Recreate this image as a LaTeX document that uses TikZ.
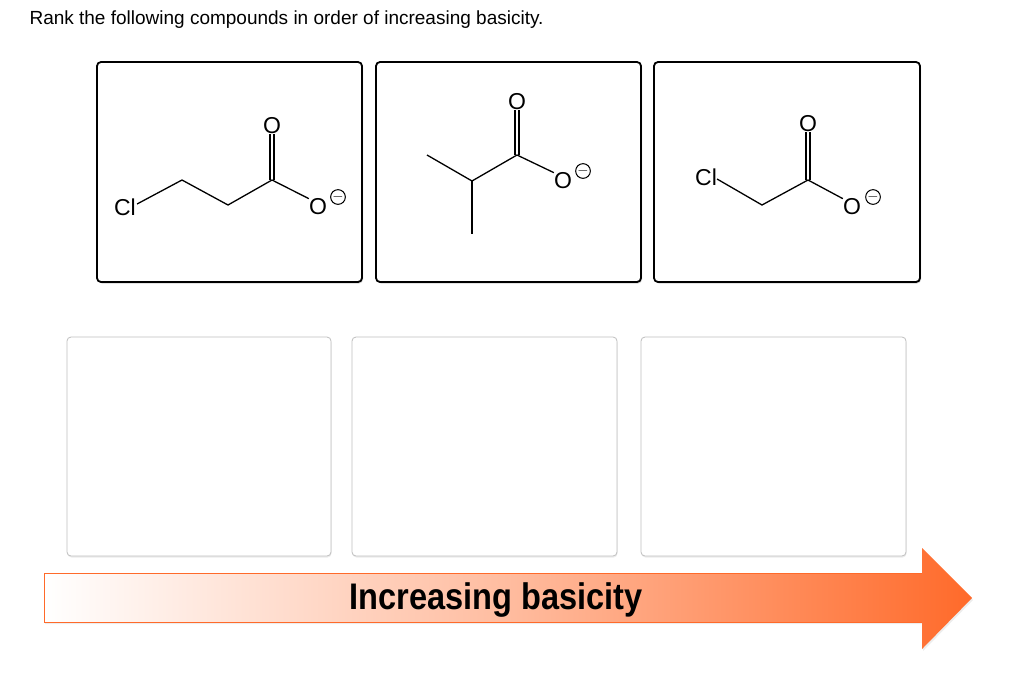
\documentclass[tikz,border=0pt]{standalone}
\usepackage{fontspec}
\setmainfont{Liberation Sans}
\usetikzlibrary{shadows}
\definecolor{orng}{HTML}{FF6A2A}
\begin{document}
\begin{tikzpicture}[x=1pt,y=-1pt,
  molbox/.style={draw=black,line width=1.8pt,rounded corners=4pt,fill=white,drop shadow={shadow xshift=1pt,shadow yshift=-1.5pt,opacity=0.35}},
  slotbox/.style={draw=black!25,line width=0.8pt,rounded corners=4pt,fill=white,drop shadow={shadow xshift=0.5pt,shadow yshift=-1.5pt,opacity=0.15}},
  bond/.style={line width=1.3pt},
  atom/.style={font=\fontsize{23}{23}\selectfont,inner sep=0pt},
  chg/.style={font=\fontsize{15}{15}\selectfont,draw,circle,inner sep=0pt,line width=1pt}]
\useasboundingbox (0,0) rectangle (1024,681);
\fill[white] (0,0) rectangle (1024,681);
\node[anchor=west,font=\fontsize{19}{19}\selectfont] (title) at (26,20) {Rank the following compounds in order of increasing basicity.};
% boxes
\path[molbox] (97,62) rectangle (362,282);
\path[molbox] (376,62) rectangle (641,282);
\path[molbox] (654,62) rectangle (920,282);
\path[slotbox] (67,337) rectangle (331,556);
\path[slotbox] (352,337) rectangle (617,556);
\path[slotbox] (641,337) rectangle (906,556);
% molecule 1
\node[atom] (cl1) at (125,207) {Cl};
\node[atom] (o1a) at (272,126) {O};
\node[atom] (o1b) at (318,207) {O};
\node[chg] (m1) at (338,197) {$-$};
\coordinate (a1) at (182,180); \coordinate (b1) at (228,205); \coordinate (c1) at (272,180);
\draw[bond] (cl1.east) ++(1,-3) -- (a1) -- (b1) -- (c1) -- (o1b.north west);
\draw[bond] ([xshift=-2]c1) -- ([xshift=-2]o1a.south);
\draw[bond] ([xshift=2]c1) -- ([xshift=2]o1a.south);
% molecule 2
\node[atom] (o2a) at (517,102) {O};
\node[atom] (o2b) at (563,181) {O};
\node[chg] (m2) at (583,171) {$-$};
\coordinate (a2) at (427,155); \coordinate (b2) at (472,181); \coordinate (c2) at (517,155); \coordinate (d2) at (472,234);
\draw[bond] (a2) -- (b2) -- (c2) -- (o2b.north west);
\draw[bond] (b2) -- (d2);
\draw[bond] ([xshift=-2]c2) -- ([xshift=-2]o2a.south);
\draw[bond] ([xshift=2]c2) -- ([xshift=2]o2a.south);
% molecule 3
\node[atom] (cl3) at (706,177) {Cl};
\node[atom] (o3a) at (808,124) {O};
\node[atom] (o3b) at (852,207) {O};
\node[chg] (m3) at (873,197) {$-$};
\coordinate (a3) at (762,205); \coordinate (c3) at (808,180);
\draw[bond] (cl3.east) ++(0,2) -- (a3) -- (c3) -- (o3b.north west);
\draw[bond] ([xshift=-2]c3) -- ([xshift=-2]o3a.south);
\draw[bond] ([xshift=2]c3) -- ([xshift=2]o3a.south);
% arrow
\fill[black,opacity=0.07] (45,575) -- (923,575) -- (923,550) -- (973,600) -- (923,651) -- (923,624) -- (45,624) -- cycle;
\shade[left color=white,right color=orng,middle color=orng!45] (44,573) -- (922,573) -- (922,548) -- (972,598) -- (922,649) -- (922,622) -- (44,622) -- cycle;
\draw[orng,line width=1pt] (44,573) -- (922,573);
\draw[orng,line width=1pt] (44,622) -- (922,622);
\draw[orng,line width=1pt] (44,573) -- (44,622);
\node[font=\bfseries\fontsize{37}{37}\selectfont,xscale=0.88] (lbl) at (496,600) {Increasing basicity};
\end{tikzpicture}
\end{document}
